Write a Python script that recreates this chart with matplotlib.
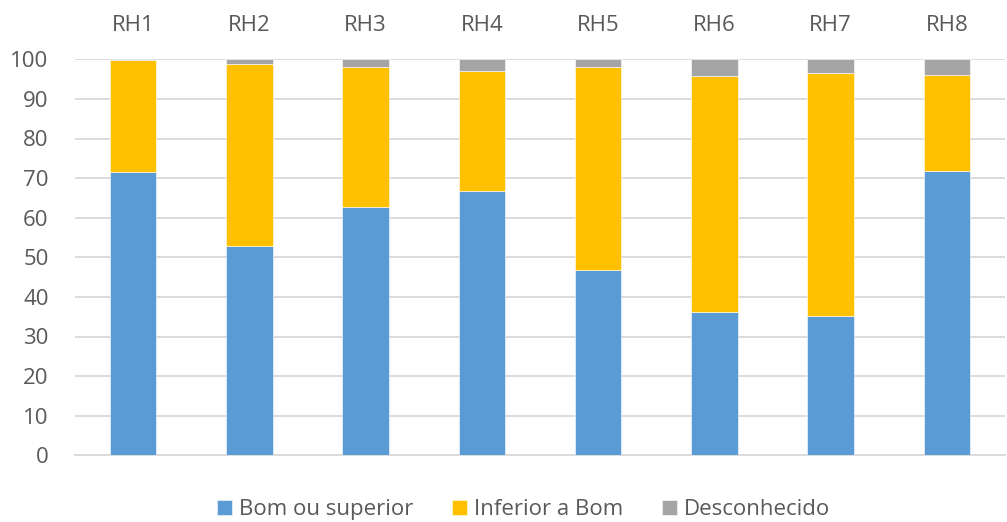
import matplotlib
matplotlib.use('Agg')
import matplotlib.pyplot as plt
import numpy as np

plt.rcParams['font.family'] = ['Open Sans', 'DejaVu Sans']

categories = ['RH1', 'RH2', 'RH3', 'RH4', 'RH5', 'RH6', 'RH7', 'RH8']
bom = [71.6, 52.9, 62.7, 66.8, 46.9, 36.2, 35.1, 71.9]
inferior = [28.2, 45.9, 35.3, 30.2, 51.1, 59.5, 61.4, 24.1]
desconhecido = [0.2, 1.2, 2.0, 3.0, 2.0, 4.3, 3.5, 4.0]

fig = plt.figure(figsize=(10.07, 5.22), dpi=100)
ax = fig.add_axes([75/1007, (522-455.3)/522, 930/1007, (455.3-59.3)/522])

x = np.arange(len(categories))
w = 0.4
bottom2 = np.array(bom) + np.array(inferior)
ax.bar(x, bom, w, color='#5B9BD5', label='Bom ou superior', zorder=3, edgecolor='white', linewidth=0.4)
ax.bar(x, inferior, w, bottom=bom, color='#FFC000', label='Inferior a Bom', zorder=3, edgecolor='white', linewidth=0.4)
ax.bar(x, desconhecido, w, bottom=bottom2, color='#A5A5A5', label='Desconhecido', zorder=3, edgecolor='white', linewidth=0.4)

ax.set_xlim(-0.5, len(categories) - 0.5)
ax.set_ylim(0, 100)
ax.set_yticks(range(0, 101, 10))
ax.yaxis.grid(True, color='#d9d9d9', linewidth=1.3, zorder=0)
ax.set_axisbelow(True)

ax.xaxis.tick_top()
ax.set_xticks(x)
ax.set_xticklabels(categories)
ax.tick_params(axis='both', length=0, labelsize=16, colors='#595959')
ax.tick_params(axis='x', pad=17)
ax.tick_params(axis='y', pad=19)

for s in ['top', 'left', 'right']:
    ax.spines[s].set_visible(False)
ax.spines['bottom'].set_color('#d9d9d9')
ax.spines['bottom'].set_linewidth(1.3)

fig.legend(loc='center', bbox_to_anchor=(0.52, 0.024), ncol=3, frameon=False,
           fontsize=16, handlelength=0.68, handleheight=0.68, handletextpad=0.3,
           columnspacing=1.75, labelcolor='#595959')

plt.savefig('out.png', dpi=100)
